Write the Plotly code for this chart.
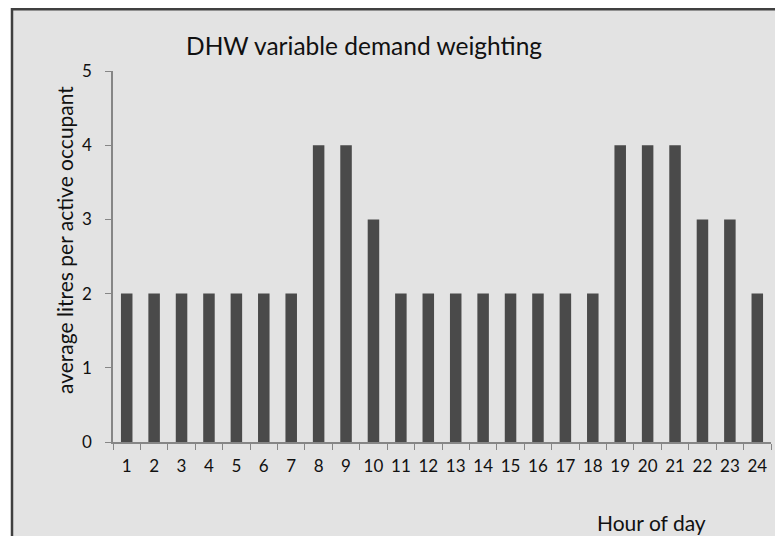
import plotly.graph_objects as go

hours = [str(h) for h in range(1, 25)]
litres = [2, 2, 2, 2, 2, 2, 2, 4, 4, 3, 2, 2, 2, 2, 2, 2, 2, 2, 4, 4, 4, 3, 3, 2]
y_ticks = [0, 1, 2, 3, 4, 5]

FONT = "Lato, 'Open Sans', sans-serif"
AXIS_GREY = "#868686"
TEXT = "#111111"

# page body adds 8px; the figure overflows the window a little on the right/bottom
W, H = 790, 540
L, R, T, B = 105, 27, 63, 106
pw, ph = W - L - R, H - T - B


def px_x(p):
    return (p - L) / pw


def px_y(p):
    return (H - B - p) / ph


fig = go.Figure(go.Bar(
    x=hours, y=litres,
    marker=dict(color="#4a4a4a", line=dict(width=0)),
    width=0.42,
))

fig.update_layout(
    width=W, height=H,
    margin=dict(l=L, r=R, t=T, b=B),
    paper_bgcolor="#e3e3e3",
    plot_bgcolor="rgba(0,0,0,0)",
    font=dict(family=FONT, color=TEXT),
    showlegend=False,
    shapes=[
        # white strip on the left, then the chart border (left and top only)
        dict(type="rect", xref="paper", yref="paper", layer="below",
             x0=px_x(-5), x1=px_x(4), y0=px_y(560), y1=px_y(-5),
             fillcolor="white", line=dict(width=0)),
        dict(type="line", xref="paper", yref="paper", layer="below",
             x0=px_x(4), x1=px_x(4), y0=px_y(560), y1=px_y(0),
             line=dict(color="#404040", width=2.5)),
        dict(type="line", xref="paper", yref="paper", layer="below",
             x0=px_x(3), x1=px_x(800), y0=px_y(1.2), y1=px_y(1.2),
             line=dict(color="#404040", width=2.5)),
    ],
    annotations=[
        dict(text="DHW variable demand weighting", xref="paper", yref="paper",
             x=px_x(356), y=px_y(37), xanchor="center", yanchor="middle",
             showarrow=False, font=dict(size=24.5, family=FONT, color=TEXT)),
        dict(text="average litres per active occupant", xref="paper", yref="paper",
             x=px_x(57), y=px_y(232), xanchor="center", yanchor="middle",
             showarrow=False, textangle=-90,
             font=dict(size=21, family=FONT, color=TEXT)),
        dict(text="Hour of day", xref="paper", yref="paper",
             x=px_x(643), y=px_y(514), xanchor="center", yanchor="middle",
             showarrow=False, font=dict(size=21, family=FONT, color=TEXT)),
    ],
)

fig.update_xaxes(
    type="category", showgrid=False, zeroline=False,
    showline=True, linecolor=AXIS_GREY, linewidth=1.5,
    ticks="outside", tickson="boundaries", ticklen=6, tickcolor=AXIS_GREY,
    tickangle=0, ticklabelstandoff=8,
    tickfont=dict(size=17, family=FONT, color=TEXT),
)
fig.update_yaxes(
    range=[0, 5], tickvals=y_ticks, showgrid=False, zeroline=False,
    showline=True, linecolor=AXIS_GREY, linewidth=1.5,
    ticks="outside", ticklen=6, tickcolor=AXIS_GREY,
    ticklabelstandoff=10,
    tickfont=dict(size=17, family=FONT, color=TEXT),
)

fig.write_html("out.html")
